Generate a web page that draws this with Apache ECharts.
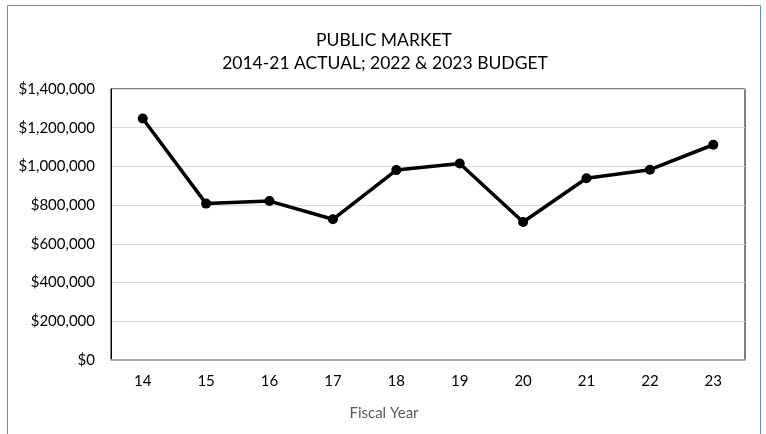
<!DOCTYPE html>
<html>
<head>
<meta charset="utf-8">
<script src="https://cdn.jsdelivr.net/npm/echarts@6/dist/echarts.min.js"></script>
<style>
  html, body { margin: 0; padding: 0; background: #ffffff; }
  #chart { width: 766px; height: 434px; }
</style>
</head>
<body>
<div id="chart"></div>
<script>
// Fiscal years (two-digit) and Public Market totals in dollars
const fiscalYears = ['14', '15', '16', '17', '18', '19', '20', '21', '22', '23'];
const marketTotals = [1248000, 808000, 821000, 727000, 981000, 1015000, 713000, 939000, 983000, 1112000];
const titleLines = ['PUBLIC MARKET', '2014-21 ACTUAL; 2022 & 2023 BUDGET'];
const xAxisTitle = 'Fiscal Year';

const FONT = 'Lato, "Open Sans", sans-serif';

function dollars(v) {
  return '$' + Math.round(v).toString().replace(/\B(?=(\d{3})+(?!\d))/g, ',');
}

const chart = echarts.init(document.getElementById('chart'), null, { renderer: 'canvas' });

chart.setOption({
  animation: false,
  backgroundColor: '#ffffff',
  graphic: [
    {
      type: 'rect',
      shape: { x: 7.5, y: 5.5, width: 753, height: 440 },
      style: { fill: 'none', stroke: '#5b8fd4', lineWidth: 1 },
      silent: true,
      z: 0
    },
    {
      type: 'text',
      x: 384,
      y: 40,
      style: {
        text: titleLines[0],
        fill: '#000000',
        font: '17.5px ' + FONT,
        align: 'center',
        verticalAlign: 'middle'
      },
      silent: true
    },
    {
      type: 'text',
      x: 385,
      y: 63,
      style: {
        text: titleLines[1],
        fill: '#000000',
        font: '17.5px ' + FONT,
        align: 'center',
        verticalAlign: 'middle'
      },
      silent: true
    },
    {
      type: 'text',
      x: 384,
      y: 413,
      style: {
        text: xAxisTitle,
        fill: '#595959',
        font: '15px ' + FONT,
        align: 'center',
        verticalAlign: 'middle'
      },
      silent: true
    }
  ],
  grid: {
    left: 111,
    top: 89,
    right: 21,
    bottom: 74,
    show: true,
    borderColor: '#000000',
    borderWidth: 1,
    backgroundColor: 'transparent'
  },
  xAxis: {
    type: 'category',
    data: fiscalYears,
    boundaryGap: true,
    axisLine: { show: true, lineStyle: { color: '#a6a6a6', width: 2 } },
    axisTick: { show: false },
    axisLabel: { color: '#000000', fontFamily: FONT, fontSize: 15, margin: 14 },
    splitLine: { show: false }
  },
  yAxis: {
    type: 'value',
    min: 0,
    max: 1400000,
    interval: 200000,
    axisLine: { show: true, lineStyle: { color: '#000000', width: 1 } },
    axisTick: { show: false },
    axisLabel: {
      color: '#000000',
      fontFamily: FONT,
      fontSize: 15,
      margin: 16,
      formatter: dollars
    },
    splitLine: { show: true, lineStyle: { color: '#d9d9d9', width: 1 } }
  },
  series: [
    {
      type: 'line',
      data: marketTotals,
      symbol: 'circle',
      symbolSize: 10,
      lineStyle: { color: '#000000', width: 3.5 },
      itemStyle: { color: '#000000' },
      z: 5
    }
  ]
});
</script>
</body>
</html>
